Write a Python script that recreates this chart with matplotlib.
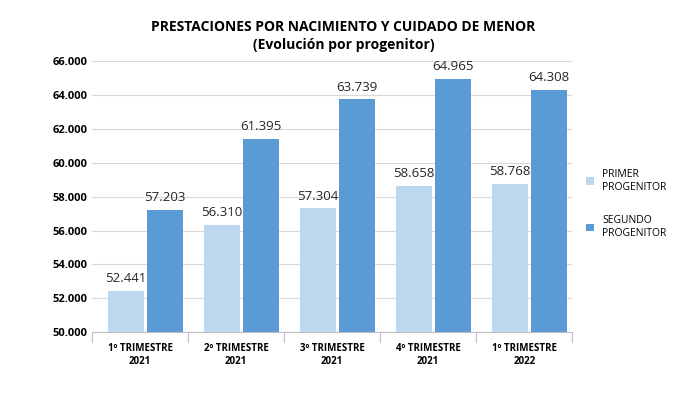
import matplotlib
matplotlib.use("Agg")
import matplotlib.pyplot as plt
import numpy as np

categories = ["1º TRIMESTRE\n2021", "2º TRIMESTRE\n2021", "3º TRIMESTRE\n2021", "4º TRIMESTRE\n2021", "1º TRIMESTRE\n2022"]
primer = [52441, 56310, 57304, 58658, 58768]
segundo = [57203, 61395, 63739, 64965, 64308]
yticks = list(range(50000, 66001, 2000))

def fmt(v):
    return f"{v:,}".replace(",", ".")

plt.rcParams["font.family"] = "Open Sans"
fig = plt.figure(figsize=(6.87, 4.08), dpi=100)
ax = fig.add_axes([0.134, 0.186, 0.699, 0.664])
x = np.arange(len(categories))
w = 0.375
b1 = ax.bar(x - 0.146, primer, w, color="#BDD7EE", label="PRIMER\nPROGENITOR", zorder=3)
b2 = ax.bar(x + 0.26, segundo, w, color="#5B9BD5", label="SEGUNDO\nPROGENITOR", zorder=3)
for bars, vals in ((b1, primer), (b2, segundo)):
    for r, v in zip(bars, vals):
        ax.text(r.get_x() + r.get_width() / 2, v + 350, fmt(v), ha="center", va="bottom", fontsize=9.5, color="#262626")
ax.set_ylim(50000, 66000)
ax.set_xlim(-0.5, 4.5)
ax.set_yticks(yticks)
ax.set_yticklabels([fmt(t) for t in yticks], fontsize=8, fontweight="bold")
ax.set_xticks(x)
ax.set_xticklabels(categories, fontsize=7, fontweight="bold")
ax.tick_params(axis="x", length=0, pad=8)
ax.tick_params(axis="y", length=0)
ax.yaxis.grid(True, color="#D9D9D9", lw=0.8, zorder=0)
for s in ["top", "right", "left"]:
    ax.spines[s].set_visible(False)
ax.spines["bottom"].set_color("#BFBFBF")
# group separators
for xv in np.arange(-0.5, 5.0, 1.0):
    ax.plot([xv, xv], [50000, 49400], color="#BFBFBF", lw=0.8, clip_on=False)
fig.text(0.5, 0.925, "PRESTACIONES POR NACIMIENTO Y CUIDADO DE MENOR", ha="center", fontsize=10, fontweight="bold")
fig.text(0.5, 0.88, "(Evolución por progenitor)", ha="center", fontsize=10, fontweight="bold")
fig.legend(handles=[b1, b2], loc="center left", bbox_to_anchor=(0.84, 0.5), frameon=False,
           fontsize=7.5, handlelength=0.7, handleheight=0.7, labelspacing=2.2)
fig.savefig("out.png", dpi=100)
